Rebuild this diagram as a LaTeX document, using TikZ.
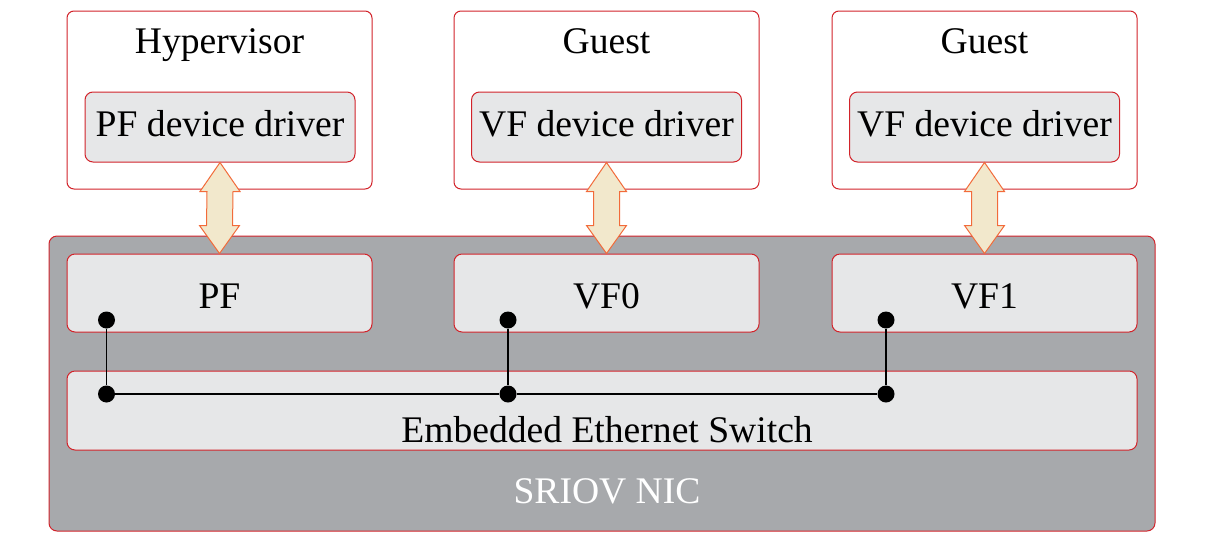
\documentclass[tikz,border=0pt]{standalone}
\usepackage{fontspec}
\setmainfont{Liberation Serif}
\usetikzlibrary{calc}
\definecolor{redb}{HTML}{D2232A}
\definecolor{innerg}{HTML}{E6E7E8}
\definecolor{nicg}{HTML}{A7A9AC}
\definecolor{arrfill}{HTML}{F2E8CC}
\definecolor{arrline}{HTML}{F26B3A}
\tikzset{
  host/.style={draw=redb, line width=1pt, fill=white, rounded corners=7pt, minimum width=305pt, minimum height=178pt, inner sep=0pt},
  drv/.style={draw=redb, line width=1pt, fill=innerg, rounded corners=8pt, minimum width=270pt, minimum height=70pt, inner sep=0pt},
  fn/.style={draw=redb, line width=1pt, fill=innerg, rounded corners=8pt, minimum width=305pt, minimum height=78pt, inner sep=0pt},
  nic/.style={draw=redb, line width=1pt, fill=nicg, rounded corners=8pt, minimum width=1106pt, minimum height=295pt, inner sep=0pt},
  txt/.style={inner sep=0pt, anchor=base},
  dot/.style={circle, fill=black, minimum size=17pt, inner sep=0pt},
  wire/.style={draw=black, line width=1.3pt},
  dbl/.style={draw=arrline, fill=arrfill, line width=1pt, line join=miter}
}
\begin{document}
\begin{tikzpicture}[x=1pt,y=-1pt, font=\fontsize{37.6}{40}\selectfont]
\useasboundingbox (0,0) rectangle (1206,544);
% top hosts
\node[host] (h0) at (219.5,100) {};
\node[host] (h1) at (606.5,100) {};
\node[host] (h2) at (984.5,100) {};
\node[txt] (t0) at (219.5,53) {Hypervisor};
\node[txt] (t1) at (606.5,53) {Guest};
\node[txt] (t2) at (984.5,53) {Guest};
\node[drv] (d0) at (220,127) {};
\node[drv] (d1) at (606.5,127) {};
\node[drv] (d2) at (984.5,127) {};
\node[txt] at (220,136) {PF device driver};
\node[txt] at (606.5,136) {VF device driver};
\node[txt] at (984.5,136) {VF device driver};
% NIC
\node[nic] (nic) at (602,383.5) {};
\node[fn] (f0) at (219.5,293) {};
\node[fn] (f1) at (606.5,293) {};
\node[fn] (f2) at (984.5,293) {};
\node[txt] at (219.5,308) {PF};
\node[txt] at (606.5,308) {VF0};
\node[txt] at (984.5,308) {VF1};
\node[fn, minimum width=1070pt, minimum height=79pt] (sw) at (602,410.5) {};
\node[txt] (swt) at (607,442) {Embedded Ethernet Switch};
\node[txt, text=white] (nict) at (607,503) {SRIOV NIC};
% double arrows
\foreach \i in {0,1,2}{
  \draw[dbl] (d\i.south) -- ($(d\i.south)+(20,29)$) -- ($(d\i.south)+(13,29)$)
    -- ($(f\i.north)+(13,-28)$) -- ($(f\i.north)+(20,-28)$) -- (f\i.north)
    -- ($(f\i.north)+(-20,-28)$) -- ($(f\i.north)+(-13,-28)$)
    -- ($(d\i.south)+(-13,29)$) -- ($(d\i.south)+(-20,29)$) -- cycle;
}
% wiring
\node[dot] (a0) at (106.5,320) {};
\node[dot] (a1) at (508,320) {};
\node[dot] (a2) at (886,320) {};
\node[dot] (b0) at (106.5,394) {};
\node[dot] (b1) at (508,394) {};
\node[dot] (b2) at (886,394) {};
\draw[wire] (a0) -- (b0);
\draw[wire] (a1) -- (b1);
\draw[wire] (a2) -- (b2);
\draw[wire] (b0) -- (b1) -- (b2);
\end{tikzpicture}
\end{document}
